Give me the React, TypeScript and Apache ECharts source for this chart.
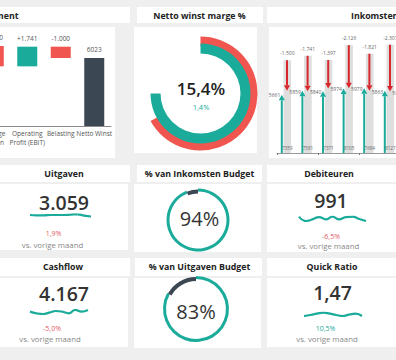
import React, { useEffect, useRef } from "react";
import * as echarts from "echarts";

const TEAL = "#1aab9b";
const RED = "#f0564f";
const DARK_RED = "#d9262b";
const DARK = "#3b4753";
const GRAY_TXT = "#888888";
const FONT = "'Open Sans', 'Noto Sans', sans-serif";

// ---- Income statement waterfall ----
const wfCategories = ["Omzet", "Kostprijs", "Overige\nkosten", "Operating\nProfit (EBIT)", "Belasting", "Netto Winst"];
const wfValues = [8000, -918, -1800, 1741, -1000, 6023];
const wfIsTotal = [true, false, false, false, false, true];

// ---- Netto winst marge ----
const margeValue = "15,4%";
const margeDelta = "1,4%";
const margeRingOuter = 67; // % of circle (red)
const margeRingInner = 75; // % of circle (teal)

// ---- Inkomsten & Uitgaven ----
const inkMonths = ["Jan", "Feb", "Mrt", "Apr", "Mei", "Jun"];
const inkStart = [5661, 5859, 5840, 5974, 5979, 5863];
const inkCosts = [-1500, -1741, -1397, -2126, -1821, -2307];
const inkResult = [5859, 5840, 5974, 5979, 5863, 5820];
const INK_MIN = 2800;
const INK_MAX = 8850;

// ---- KPI cards ----
const kpiNames = ["Uitgaven", "Debiteuren", "Cashflow", "Quick Ratio"];
const kpiValues = ["3.059", "991", "4.167", "1,47"];
const kpiDeltas = ["1,9%", "-6,5%", "-5,0%", "10,5%"];
const kpiDeltaGood = [false, false, false, true];
const trendUitgaven = [35, 34, 34, 35, 35, 35, 36, 37, 33, 30];
const trendDebiteuren = [30, 17, 22, 29, 22, 30, 22, 29, 30, 23, 17];
const trendCashflow = [30, 25, 23, 27, 32, 30, 25, 35, 30, 35];
const trendQuick = [17, 20, 24, 27, 24, 20, 17, 21, 24, 17];

// ---- Budget gauges ----
const budgetNames = ["% van Inkomsten Budget", "% van Uitgaven Budget"];
const budgetPct = [94, 83];

const nl = (n: number) => Math.abs(n).toString().replace(/\B(?=(\d{3})+(?!\d))/g, ".");
const signed = (n: number) => (n >= 0 ? "+" : "-") + nl(n);

function buildOption() {
  const graphics: any[] = [];
  const rect = (x: number, y: number, w: number, h: number) =>
    graphics.push({ type: "rect", silent: true, z: -10, shape: { x, y, width: w, height: h }, style: { fill: "#ffffff" } });
  const text = (t: string, x: number, y: number, size: number, color: string, weight: any = "normal", align = "center") =>
    graphics.push({
      type: "text", silent: true, z: 10, x, y,
      style: { text: t, fill: color, fontSize: size, fontWeight: weight, fontFamily: FONT, textAlign: align, textVerticalAlign: "middle" },
    });

  // panels
  rect(-10, 7, 140, 16); rect(137, 7, 126, 16); rect(267, 7, 140, 16);
  rect(-10, 27, 125, 131); rect(134, 27, 123, 126); rect(269, 27, 130, 131);
  rect(-10, 165, 140, 17); rect(137, 165, 125, 17); rect(267, 165, 140, 17);
  rect(-10, 184, 138, 66); rect(134, 184, 127, 68); rect(267, 184, 140, 68);
  rect(-10, 258, 140, 18); rect(135, 258, 127, 18); rect(267, 258, 140, 18);
  rect(-10, 278, 138, 69); rect(134, 278, 127, 70); rect(267, 278, 140, 69);

  // titles
  const TS = 8.8;
  text("Income Statement", 18.5, 15.5, TS, "#222", "bold", "right");
  text("Netto winst marge %", 199.5, 15.5, TS, "#222", "bold");
  text("Inkomsten & Uitgaven", 351, 15.5, TS, "#222", "bold", "left");
  text(kpiNames[0], 64, 174, TS, "#222", "bold");
  text(budgetNames[0], 199.5, 174, TS, "#222", "bold");
  text(kpiNames[1], 329, 174, TS, "#222", "bold");
  text(kpiNames[2], 63, 267, TS, "#222", "bold");
  text(budgetNames[1], 199.5, 267, TS, "#222", "bold");
  text(kpiNames[3], 332, 267, TS, "#222", "bold");

  // marge center
  text(margeValue, 201, 88, 17, "#222", 600);
  text(margeDelta, 201, 107, 7.5, TEAL);

  // KPI values
  const kpiPos = [
    { v: [64, 202], d: [53.5, 233], s: [52.5, 245] },
    { v: [331, 200], d: [331, 236], s: [328.5, 246] },
    { v: [64, 293], d: [52, 328], s: [50, 338.5] },
    { v: [332.5, 292], d: [325.5, 328.5], s: [327, 338.5] },
  ];
  kpiPos.forEach((p, i) => {
    text(kpiValues[i], p.v[0], p.v[1], 19.5, "#333", 600);
    text(kpiDeltas[i], p.d[0], p.d[1], 7, kpiDeltaGood[i] ? TEAL : "#e05a5f");
    text("vs. vorige maand", p.s[0], p.s[1], 7.8, GRAY_TXT);
  });

  // budget gauge texts
  text(budgetPct[0] + "%", 199.5, 218, 20, "#333", "normal");
  text(budgetPct[1] + "%", 196, 311.5, 20, "#333", "normal");

  // waterfall computations
  const wfBase: number[] = [];
  const wfHeight: number[] = [];
  let run = 0;
  wfValues.forEach((v, i) => {
    if (wfIsTotal[i]) { wfBase.push(0); wfHeight.push(v); run = v; }
    else { const next = run + v; wfBase.push(Math.min(run, next)); wfHeight.push(Math.abs(v)); run = next; }
  });
  const wfColor = (i: number) => (wfIsTotal[i] ? DARK : wfValues[i] >= 0 ? TEAL : RED);
  const wfLabel = (i: number) => (wfIsTotal[i] ? String(wfValues[i]) : signed(wfValues[i]));

  const sparkGrids = [
    { left: 30, top: 214.3, width: 61, height: 2.4, data: trendUitgaven },
    { left: 299, top: 216.7, width: 67, height: 4.3, data: trendDebiteuren },
    { left: 30, top: 310, width: 58, height: 4, data: trendCashflow },
    { left: 304, top: 312.7, width: 58, height: 3.3, data: trendQuick },
  ];

  const grid: any[] = [
    { left: -90, top: 30, width: 201, height: 96, outerBoundsMode: "none", containLabel: false },
    { left: 277, top: 30, width: 123.6, height: 123, outerBoundsMode: "none", containLabel: false },
    ...sparkGrids.map((g) => ({ left: g.left, top: g.top, width: g.width, height: g.height, outerBoundsMode: "none" })),
  ];
  const xAxis: any[] = [
    {
      gridIndex: 0, type: "category", data: wfCategories,
      axisLine: { lineStyle: { color: "#8a8a8a", width: 1 } }, axisTick: { show: false },
      axisLabel: { interval: 0, fontSize: 6.5, color: "#555", margin: 3, lineHeight: 9, fontFamily: FONT, hideOverlap: false },
    },
    {
      gridIndex: 1, type: "category", data: inkMonths,
      axisLine: { lineStyle: { color: "#999", width: 1 } }, axisTick: { show: true, length: 2, lineStyle: { color: "#777" } },
      axisLabel: { show: false },
    },
    ...sparkGrids.map((_, k) => ({ gridIndex: k + 2, type: "category", boundaryGap: false, show: false, data: sparkGrids[k].data.map((__, j) => j) })),
  ];
  const yAxis: any[] = [
    { gridIndex: 0, type: "value", min: 0, max: 8500, show: false, splitLine: { show: false } },
    { gridIndex: 1, type: "value", min: INK_MIN, max: INK_MAX, show: false, splitLine: { show: false } },
    ...sparkGrids.map((_, k) => ({ gridIndex: k + 2, type: "value", min: "dataMin", max: "dataMax", show: false, splitLine: { show: false } })),
  ];

  const pieBase = { type: "pie", silent: true, label: { show: false }, labelLine: { show: false }, emphasis: { disabled: true }, startAngle: 90, clockwise: true };
  const none = { color: "rgba(0,0,0,0)" };

  const series: any[] = [
    {
      type: "bar", stack: "wf", xAxisIndex: 0, yAxisIndex: 0, barWidth: 20, silent: true,
      itemStyle: { color: "rgba(0,0,0,0)" }, data: wfBase,
    },
    {
      type: "bar", stack: "wf", xAxisIndex: 0, yAxisIndex: 0, barWidth: 20, silent: true,
      data: wfHeight.map((h, i) => ({ value: h, itemStyle: { color: wfColor(i) } })),
      label: { show: true, position: "top", distance: 5, fontSize: 6.5, color: "#555", fontFamily: FONT, formatter: (p: any) => wfLabel(p.dataIndex) },
    },
    {
      type: "custom", xAxisIndex: 1, yAxisIndex: 1, silent: true,
      data: inkMonths.map((_, i) => [i, inkStart[i], inkCosts[i], inkResult[i]]),
      encode: { x: 0, y: [1, 3] },
      renderItem: (params: any, api: any) => {
        const i = api.value(0);
        const start = api.value(1);
        const cost = api.value(2);
        const result = api.value(3);
        const top = result - cost;
        const pBase = api.coord([i, INK_MIN]);
        const pTop = api.coord([i, top]);
        const pRes = api.coord([i, result]);
        const pStart = api.coord([i, start]);
        const cx = pTop[0];
        const tx = cx - 5.5;
        const rx = cx - 0.3;
        const hl = 5.5;
        const hw = 3;
        const lbl = (t: string, x: number, y: number, align: string, size = 5) => ({
          type: "text", x, y, style: { text: t, fill: "#666", fontSize: size, fontFamily: FONT, textAlign: align, textVerticalAlign: "middle" },
        });
        const children: any[] = [
          { type: "rect", shape: { x: cx - 3.8, y: pTop[1], width: 7.6, height: pBase[1] - pTop[1] }, style: { fill: "#dedede" } },
          { type: "line", shape: { x1: tx, y1: pBase[1], x2: tx, y2: pStart[1] + hl }, style: { stroke: TEAL, lineWidth: 2 } },
          { type: "polygon", shape: { points: [[tx - hw, pStart[1] + hl], [tx + hw, pStart[1] + hl], [tx, pStart[1]]] }, style: { fill: TEAL } },
          { type: "line", shape: { x1: rx, y1: pTop[1], x2: rx, y2: pRes[1] - hl }, style: { stroke: DARK_RED, lineWidth: 2 } },
          { type: "polygon", shape: { points: [[rx - hw, pRes[1] - hl], [rx + hw, pRes[1] - hl], [rx, pRes[1]]] }, style: { fill: DARK_RED } },
          lbl(signed(cost), cx, pTop[1] - 7, "center"),
          lbl(String(result), cx + 2, pRes[1] + 1, "left"),
          lbl(String(top), cx, pBase[1] - 5, "center", 4.5),
        ];
        if (params.dataIndex === 0) children.push(lbl(String(start), tx - 1.5, pStart[1], "right"));
        return { type: "group", children };
      },
    },
    // marge rings
    {
      ...pieBase, center: [200.5, 93.5], radius: [47, 57],
      data: [{ value: margeRingOuter, itemStyle: { color: RED } }, { value: 100 - margeRingOuter, itemStyle: none }],
    },
    {
      ...pieBase, center: [200.5, 93.5], radius: [40, 50], z: 3,
      data: [{ value: margeRingInner, itemStyle: { color: TEAL } }, { value: 100 - margeRingInner, itemStyle: none }],
    },
    // budget gauges
    {
      ...pieBase, center: [198, 220], radius: [28.5, 31.5],
      data: [{ value: budgetPct[0], itemStyle: { color: TEAL } }, { value: 100 - budgetPct[0], itemStyle: none }],
    },
    {
      ...pieBase, center: [198, 220], radius: [26.5, 30.5], z: 3,
      data: [{ value: budgetPct[0], itemStyle: none }, { value: 100 - budgetPct[0], itemStyle: { color: DARK } }],
    },
    {
      ...pieBase, center: [196, 309], radius: [30, 33],
      data: [{ value: budgetPct[1], itemStyle: { color: TEAL } }, { value: 100 - budgetPct[1], itemStyle: none }],
    },
    {
      ...pieBase, center: [196, 309], radius: [28, 32], z: 3,
      data: [{ value: budgetPct[1], itemStyle: none }, { value: 100 - budgetPct[1], itemStyle: { color: DARK } }],
    },
    ...sparkGrids.map((g, k) => ({
      type: "line", xAxisIndex: k + 2, yAxisIndex: k + 2, data: g.data, symbol: "none", smooth: true, silent: true,
      lineStyle: { color: TEAL, width: 2.2 },
    })),
  ];

  return {
    animation: false,
    backgroundColor: "#efefef",
    textStyle: { fontFamily: FONT },
    grid, xAxis, yAxis, series,
    graphic: { elements: graphics },
  };
}

export default function App() {
  const ref = useRef<HTMLDivElement>(null);
  useEffect(() => {
    if (!ref.current) return;
    const chart = echarts.init(ref.current, undefined, { renderer: "svg" });
    chart.setOption(buildOption() as any);
    return () => chart.dispose();
  }, []);
  return (
    <div
      ref={ref}
      style={{ position: "fixed", left: 0, top: 0, width: 396, height: 360, overflow: "hidden", background: "#efefef" }}
    />
  );
}
